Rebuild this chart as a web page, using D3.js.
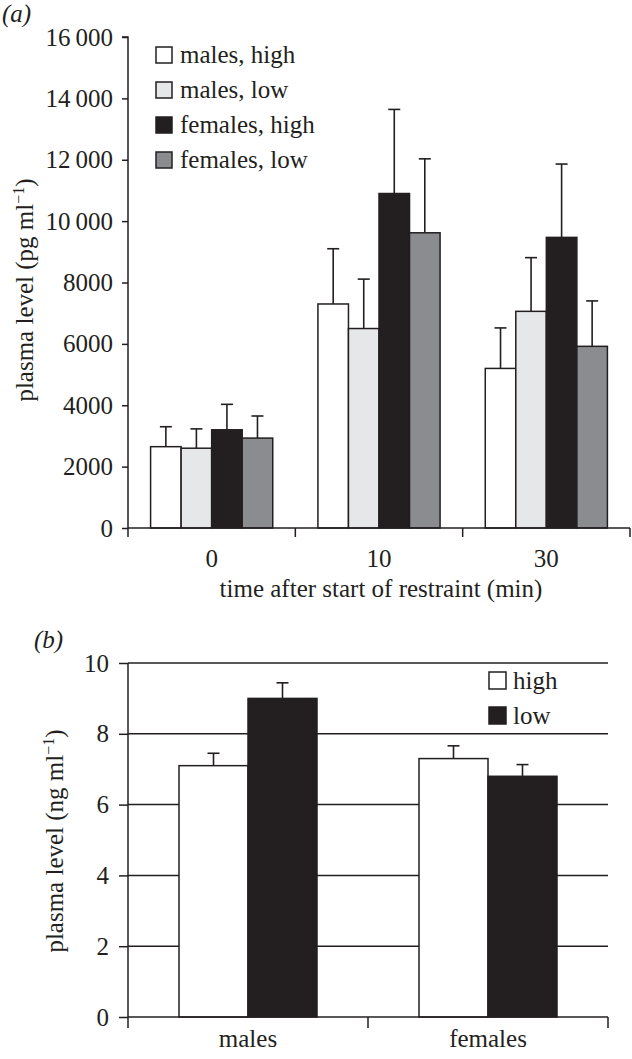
<!DOCTYPE html>
<html><head><meta charset="utf-8">
<script src="https://cdn.jsdelivr.net/npm/d3@7"></script>
<style>
html,body{margin:0;padding:0;background:#fff;}
text{font-family:"Liberation Serif","Times New Roman",serif;fill:#231f20;}
</style></head>
<body>
<svg id="c" width="632" height="1059"></svg>
<script>
// Panel (a)
const timeCats = ["0", "10", "30"];
const seriesA = ["males, high", "males, low", "females, high", "females, low"];
const meansA = [
  [2650, 2600, 3200, 2930],
  [7300, 6500, 10900, 9620],
  [5200, 7060, 9470, 5920]
];
const errTopA = [
  [3300, 3230, 4030, 3650],
  [9100, 8110, 13640, 12030],
  [6520, 8810, 11860, 7400]
];
const yTicksA = [0, 2000, 4000, 6000, 8000, 10000, 12000, 14000, 16000];
const coloursA = ["#ffffff", "#e6e7e8", "#231f20", "#8b8c8f"];

// Panel (b)
const sexCats = ["males", "females"];
const seriesB = ["high", "low"];
const meansB = [[7.1, 9.0], [7.3, 6.8]];
const errTopB = [[7.45, 9.44], [7.66, 7.13]];
const yTicksB = [0, 2, 4, 6, 8, 10];
const coloursB = ["#ffffff", "#231f20"];

const ink = "#231f20";
const FS = 25;
const svg = d3.select("#c");
const fmt = v => v >= 10000 ? d3.format(",")(v).replace(",", "\u2009") : String(v);

// ---------- Panel a ----------
{
  const L = 128, R = 630, T = 37, B = 528;
  const g = svg.append("g");
  const y = d3.scaleLinear().domain([0, 16000]).range([B, T]);
  const x0 = d3.scaleBand().domain(timeCats).range([L, R]).paddingInner(0.27).paddingOuter(0.135);
  const xOuter = d3.scaleBand().domain(timeCats).range([L, R]);
  const x1 = d3.scaleBand().domain(seriesA).range([0, x0.bandwidth()]);

  timeCats.forEach((c, i) => {
    seriesA.forEach((s, j) => {
      const bx = x0(c) + x1(s);
      const cx = bx + x1.bandwidth() / 2;
      g.append("line").attr("x1", cx).attr("x2", cx).attr("y1", y(meansA[i][j])).attr("y2", y(errTopA[i][j]))
        .attr("stroke", ink).attr("stroke-width", 1.6);
      g.append("line").attr("x1", cx - 6).attr("x2", cx + 6).attr("y1", y(errTopA[i][j])).attr("y2", y(errTopA[i][j]))
        .attr("stroke", ink).attr("stroke-width", 1.6);
      g.append("rect").attr("x", bx).attr("y", y(meansA[i][j]))
        .attr("width", x1.bandwidth()).attr("height", B - y(meansA[i][j]))
        .attr("fill", coloursA[j]).attr("stroke", ink).attr("stroke-width", 1.5);
    });
  });

  const ya = g.append("g").attr("transform", `translate(${L},0)`)
    .call(d3.axisLeft(y).tickValues(yTicksA).tickSize(6).tickPadding(9).tickFormat(fmt));
  ya.select(".domain").attr("stroke", ink).attr("stroke-width", 1.5).attr("d", `M-6,${T}H0V${B}`);
  ya.selectAll(".tick line").attr("stroke", ink).attr("stroke-width", 1.5);
  ya.selectAll(".tick text").style("font-size", FS + "px").attr("fill", ink);

  const xa = g.append("g").attr("transform", `translate(0,${B})`);
  xa.append("line").attr("x1", L).attr("x2", R).attr("y1", 0).attr("y2", 0).attr("stroke", ink).attr("stroke-width", 1.5);
  const bounds = timeCats.map(c => xOuter(c)).concat([R]);
  xa.selectAll(".bt").data(bounds).join("line").attr("x1", d => d).attr("x2", d => d).attr("y1", 0).attr("y2", 9)
    .attr("stroke", ink).attr("stroke-width", 1.5);
  xa.selectAll(".lbl").data(timeCats).join("text").attr("x", d => x0(d) + x0.bandwidth() / 2).attr("y", 39)
    .attr("text-anchor", "middle").style("font-size", FS + "px").text(d => d);
  g.append("text").attr("x", 381).attr("y", 597).attr("text-anchor", "middle").style("font-size", FS + "px")
    .text("time after start of restraint (min)");

  const yl = g.append("text").attr("transform", "translate(33,290) rotate(-90)").attr("text-anchor", "middle").style("font-size", FS + "px");
  yl.append("tspan").text("plasma level (pg ml");
  yl.append("tspan").attr("dy", -9).style("font-size", "16px").text("\u22121");
  yl.append("tspan").attr("dy", 9).text(")");

  g.append("text").attr("x", 2).attr("y", 22).style("font-size", FS + "px").style("font-style", "italic").text("(a)");

  const lg = g.append("g");
  seriesA.forEach((s, j) => {
    const top = 47 + j * 35;
    lg.append("rect").attr("x", 156).attr("y", top).attr("width", 16).attr("height", 16)
      .attr("fill", coloursA[j]).attr("stroke", ink).attr("stroke-width", 1.5);
    lg.append("text").attr("x", 180).attr("y", top + 16).style("font-size", FS + "px").text(s);
  });
}

// ---------- Panel b ----------
{
  const L = 128, R = 608, T = 663, B = 1017;
  const g = svg.append("g");
  const y = d3.scaleLinear().domain([0, 10]).range([B, T]);
  const x0 = d3.scaleBand().domain(sexCats).range([L, R]).paddingInner(0.425).paddingOuter(0.2125);
  const xOuter = d3.scaleBand().domain(sexCats).range([L, R]);
  const x1 = d3.scaleBand().domain(seriesB).range([0, x0.bandwidth()]);

  g.selectAll(".grid").data(yTicksB.filter(d => d > 0)).join("line")
    .attr("x1", L).attr("x2", R).attr("y1", d => y(d)).attr("y2", d => y(d))
    .attr("stroke", ink).attr("stroke-width", 1.5);

  sexCats.forEach((c, i) => {
    seriesB.forEach((s, j) => {
      const bx = x0(c) + x1(s);
      const cx = bx + x1.bandwidth() / 2;
      g.append("line").attr("x1", cx).attr("x2", cx).attr("y1", y(meansB[i][j])).attr("y2", y(errTopB[i][j]))
        .attr("stroke", ink).attr("stroke-width", 1.6);
      g.append("line").attr("x1", cx - 6).attr("x2", cx + 6).attr("y1", y(errTopB[i][j])).attr("y2", y(errTopB[i][j]))
        .attr("stroke", ink).attr("stroke-width", 1.6);
      g.append("rect").attr("x", bx).attr("y", y(meansB[i][j]))
        .attr("width", x1.bandwidth()).attr("height", B - y(meansB[i][j]))
        .attr("fill", coloursB[j]).attr("stroke", ink).attr("stroke-width", 1.5);
    });
  });

  const ya = g.append("g").attr("transform", `translate(${L},0)`)
    .call(d3.axisLeft(y).tickValues(yTicksB).tickSize(9).tickPadding(10).tickFormat(d => String(d)));
  ya.select(".domain").attr("stroke", ink).attr("stroke-width", 1.5).attr("d", `M0,${T}V${B}`);
  ya.selectAll(".tick line").attr("stroke", ink).attr("stroke-width", 1.5);
  ya.selectAll(".tick text").style("font-size", FS + "px").attr("fill", ink);

  const xa = g.append("g").attr("transform", `translate(0,${B})`);
  xa.append("line").attr("x1", L).attr("x2", R).attr("y1", 0).attr("y2", 0).attr("stroke", ink).attr("stroke-width", 1.5);
  const bounds = sexCats.map(c => xOuter(c)).concat([R]);
  xa.selectAll(".bt").data(bounds).join("line").attr("x1", d => d).attr("x2", d => d).attr("y1", 0).attr("y2", 11)
    .attr("stroke", ink).attr("stroke-width", 1.5);
  xa.selectAll(".lbl").data(sexCats).join("text").attr("x", d => x0(d) + x0.bandwidth() / 2).attr("y", 30)
    .attr("text-anchor", "middle").style("font-size", FS + "px").text(d => d);

  const yl = g.append("text").attr("transform", "translate(63,841) rotate(-90)").attr("text-anchor", "middle").style("font-size", FS + "px");
  yl.append("tspan").text("plasma level (ng ml");
  yl.append("tspan").attr("dy", -9).style("font-size", "16px").text("\u22121");
  yl.append("tspan").attr("dy", 9).text(")");

  g.append("text").attr("x", 34).attr("y", 648).style("font-size", FS + "px").style("font-style", "italic").text("(b)");

  seriesB.forEach((s, j) => {
    const top = 672 + j * 35;
    g.append("rect").attr("x", 489).attr("y", top).attr("width", 17).attr("height", 17)
      .attr("fill", coloursB[j]).attr("stroke", ink).attr("stroke-width", 1.5);
    g.append("text").attr("x", 513).attr("y", top + 17).style("font-size", FS + "px").text(s);
  });
}
</script>
</body></html>
